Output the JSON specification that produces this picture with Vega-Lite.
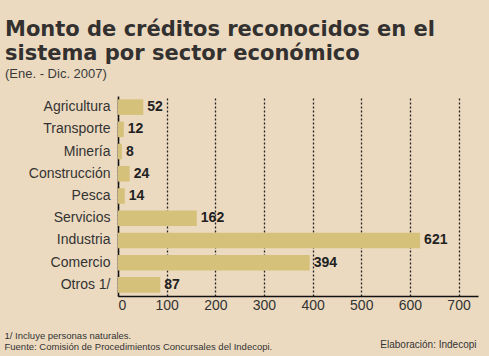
{
  "$schema": "https://vega.github.io/schema/vega-lite/v6.json",
  "width": 360,
  "height": 200,
  "autosize": {"type": "none"},
  "padding": {"left": 118, "top": 96, "right": 11, "bottom": 60},
  "background": "#ecdac0",
  "config": {"view": {"stroke": null}},
  "title": {
    "text": ["Monto de créditos reconocidos en el", "sistema por sector económico"],
    "subtitle": "(Ene. - Dic. 2007)",
    "anchor": "start",
    "frame": "group",
    "dx": -113,
    "offset": 15,
    "font": "DejaVu Sans",
    "fontSize": 21,
    "fontWeight": "bold",
    "color": "#333130",
    "lineHeight": 24,
    "subtitleFont": "Liberation Sans",
    "subtitleFontSize": 13,
    "subtitleColor": "#3a3a3a",
    "subtitlePadding": 4
  },
  "data": {
    "values": [
      {"sector": "Agricultura", "monto": 52},
      {"sector": "Transporte", "monto": 12},
      {"sector": "Minería", "monto": 8},
      {"sector": "Construcción", "monto": 24},
      {"sector": "Pesca", "monto": 14},
      {"sector": "Servicios", "monto": 162},
      {"sector": "Industria", "monto": 621},
      {"sector": "Comercio", "monto": 394},
      {"sector": "Otros 1/", "monto": 87}
    ]
  },
  "encoding": {
    "y": {
      "field": "sector",
      "type": "nominal",
      "sort": null,
      "scale": {"paddingInner": 0.3, "paddingOuter": 0.15},
      "axis": {
        "ticks": false,
        "domainColor": "#111",
        "domainWidth": 1.5,
        "labelFont": "Liberation Sans",
        "labelFontSize": 14,
        "labelColor": "#333",
        "labelPadding": 8,
        "title": "Elaboración: Indecopi",
        "titleAngle": 0,
        "titleAlign": "right",
        "titleBaseline": "alphabetic",
        "titleX": 358,
        "titleY": 251,
        "titleFont": "Liberation Sans",
        "titleFontSize": 10,
        "titleFontWeight": "normal",
        "titleColor": "#333"
      }
    },
    "x": {
      "field": "monto",
      "type": "quantitative",
      "scale": {"domain": [0, 740], "nice": false},
      "axis": {
        "values": [0, 100, 200, 300, 400, 500, 600, 700],
        "grid": true,
        "gridDash": [2, 2],
        "gridColor": "#222",
        "gridWidth": 1.3,
        "ticks": false,
        "domainColor": "#111",
        "domainWidth": 1.5,
        "labelFont": "Liberation Sans",
        "labelFontSize": 14,
        "labelColor": "#333",
        "labelPadding": 2,
        "title": ["1/ Incluye personas naturales.", "Fuente: Comisión de Procedimientos Concursales del Indecopi."],
        "titleAnchor": "start",
        "titleAlign": "left",
        "titleBaseline": "alphabetic",
        "titleX": -114,
        "titleY": 42,
        "titleLineHeight": 11,
        "titleFont": "Liberation Sans",
        "titleFontSize": 9.5,
        "titleFontWeight": "normal",
        "titleColor": "#333"
      }
    }
  },
  "layer": [
    {"mark": {"type": "bar", "color": "#d6c17a"}},
    {
      "mark": {"type": "text", "align": "left", "dx": 4, "font": "Liberation Sans", "fontWeight": "bold", "fontSize": 14, "color": "#222"},
      "encoding": {"text": {"field": "monto", "type": "quantitative"}}
    }
  ]
}
